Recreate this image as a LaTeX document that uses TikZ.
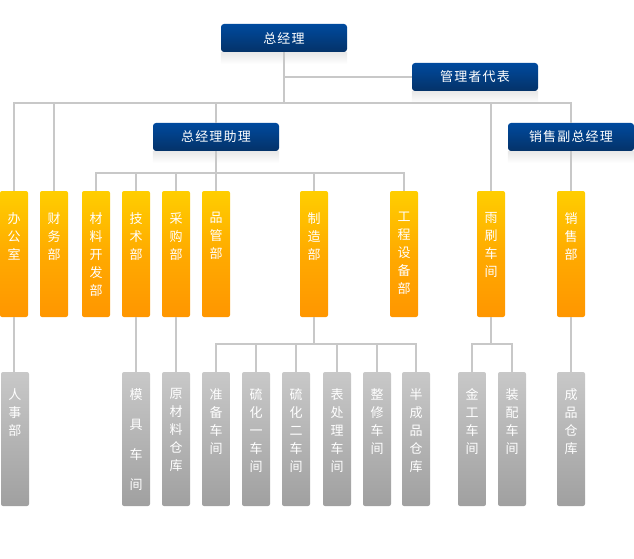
\documentclass[tikz,border=0pt]{standalone}
\usepackage{fontspec}
\setmainfont{Noto Sans CJK SC}
\newfontfamily\cjkls[LetterSpace=9]{Noto Sans CJK SC}
\definecolor{bluetop}{RGB}{0,74,158}
\definecolor{bluebot}{RGB}{4,50,104}
\definecolor{orgtop}{RGB}{255,206,0}
\definecolor{orgmid}{RGB}{255,170,0}
\definecolor{orgbot}{RGB}{255,150,0}
\definecolor{grytop}{RGB}{200,200,200}
\definecolor{grybot}{RGB}{160,160,160}
\definecolor{linec}{RGB}{200,200,200}
\tikzset{
  conn/.style={draw=linec, line width=1.3pt},
  bbox/.style={rounded corners=3pt, minimum width=126pt, minimum height=28pt,
    top color=bluetop, bottom color=bluebot, text=white, inner sep=0pt,
    font=\cjkls\fontsize{13}{15}\selectfont},
  obox/.style={rounded corners=2pt, minimum width=28pt, minimum height=126pt,
    top color=orgtop, bottom color=orgbot, middle color=orgmid, inner sep=0pt},
  gbox/.style={rounded corners=2pt, minimum width=28pt, minimum height=134pt,
    top color=grytop, bottom color=grybot, inner sep=0pt},
  vtext/.style={anchor=north, align=center, text=white, inner sep=0pt,
    font=\fontsize{13}{18}\selectfont},
  refl/.style={top color=black!9, bottom color=white, draw=none},
}
\begin{document}
\begin{tikzpicture}[x=1pt, y=-1pt]
\useasboundingbox (0,0) rectangle (634,559);

% blue boxes
\node[bbox] (zjl) at (284,38) {总经理};
\node[bbox] (glz) at (475,77) {管理者代表};
\node[bbox] (zjlzl) at (216,137) {总经理助理};
\node[bbox] (xsfz) at (571,137) {销售副总经理};
\foreach \n in {zjl,glz,zjlzl,xsfz}
  \fill[refl] (\n.south west) rectangle ([yshift=-12pt]\n.south east);

% orange boxes
\node[obox] (bgs) at (14,254) {};
\node[obox] (cwb) at (54,254) {};
\node[obox] (clkf) at (96,254) {};
\node[obox] (jsb) at (136,254) {};
\node[obox] (cgb) at (176,254) {};
\node[obox] (pgb) at (216,254) {};
\node[obox] (zzb) at (314,254) {};
\node[obox] (gcsb) at (404,254) {};
\node[obox] (ysj) at (491,254) {};
\node[obox] (xsb) at (571,254) {};

\node[vtext] (t-bgs) at ([yshift=-21.5pt]bgs.north) {办\\公\\室};
\node[vtext] (t-cwb) at ([yshift=-21.5pt]cwb.north) {财\\务\\部};
\node[vtext] (t-clkf) at ([yshift=-21.5pt]clkf.north) {材\\料\\开\\发\\部};
\node[vtext] (t-jsb) at ([yshift=-21.5pt]jsb.north) {技\\术\\部};
\node[vtext] (t-cgb) at ([yshift=-21.5pt]cgb.north) {采\\购\\部};
\node[vtext] (t-pgb) at ([yshift=-21.5pt]pgb.north) {品\\管\\部};
\node[vtext] (t-zzb) at ([yshift=-21.5pt]zzb.north) {制\\造\\部};
\node[vtext] (t-gcsb) at ([yshift=-21.5pt]gcsb.north) {工\\程\\设\\备\\部};
\node[vtext] (t-ysj) at ([yshift=-21.5pt]ysj.north) {雨\\刷\\车\\间};
\node[vtext] (t-xsb) at ([yshift=-21.5pt]xsb.north) {销\\售\\部};

% grey boxes
\node[gbox] (rsb) at (15,439) {};
\node[gbox] (mjcj) at (136,439) {};
\node[gbox] (ylck) at (176,439) {};
\node[gbox] (zbcj) at (216,439) {};
\node[gbox] (lh1) at (256,439) {};
\node[gbox] (lh2) at (296,439) {};
\node[gbox] (bcl) at (337,439) {};
\node[gbox] (zx) at (377,439) {};
\node[gbox] (bcp) at (416,439) {};
\node[gbox] (jg) at (472,439) {};
\node[gbox] (zp) at (512,439) {};
\node[gbox] (cpck) at (571,439) {};

\node[vtext] (t-rsb) at ([yshift=-16.5pt]rsb.north) {人\\事\\部};
\node[vtext] (t-mjcj) at ([yshift=-16.5pt]mjcj.north) {模\\[12pt]具\\[12pt]车\\[12pt]间};
\node[vtext] (t-ylck) at ([yshift=-16.5pt]ylck.north) {原\\材\\料\\仓\\库};
\node[vtext] (t-zbcj) at ([yshift=-16.5pt]zbcj.north) {准\\备\\车\\间};
\node[vtext] (t-lh1) at ([yshift=-16.5pt]lh1.north) {硫\\化\\一\\车\\间};
\node[vtext] (t-lh2) at ([yshift=-16.5pt]lh2.north) {硫\\化\\二\\车\\间};
\node[vtext] (t-bcl) at ([yshift=-16.5pt]bcl.north) {表\\处\\理\\车\\间};
\node[vtext] (t-zx) at ([yshift=-16.5pt]zx.north) {整\\修\\车\\间};
\node[vtext] (t-bcp) at ([yshift=-16.5pt]bcp.north) {半\\成\\品\\仓\\库};
\node[vtext] (t-jg) at ([yshift=-16.5pt]jg.north) {金\\工\\车\\间};
\node[vtext] (t-zp) at ([yshift=-16.5pt]zp.north) {装\\配\\车\\间};
\node[vtext] (t-cpck) at ([yshift=-16.5pt]cpck.north) {成\\品\\仓\\库};

% bus levels
\coordinate (bus1) at (0,103);
\coordinate (bus2) at (0,173);
\coordinate (bus3) at (0,344);

% connectors
\draw[conn] (zjl.south) -- (zjl.south |- bus1);
\draw[conn] (zjl.south |- glz.west) -- (glz.west);
\draw[conn] (bgs.north) |- (bus1 -| xsfz.north) -- (xsfz.north);
\draw[conn] (cwb.north) -- (cwb.north |- bus1);
\draw[conn] (zjlzl.north) -- (zjlzl.north |- bus1);
\draw[conn] (ysj.north) -- (ysj.north |- bus1);
\draw[conn] (xsfz.south) -- (xsb.north);

\draw[conn] (clkf.north) |- (bus2 -| gcsb.north) -- (gcsb.north);
\draw[conn] (jsb.north) -- (jsb.north |- bus2);
\draw[conn] (cgb.north) -- (cgb.north |- bus2);
\draw[conn] (zjlzl.south) -- (pgb.north);
\draw[conn] (zzb.north) -- (zzb.north |- bus2);

\draw[conn] (bgs.south) -- (bgs.south |- rsb.north);
\draw[conn] (jsb.south) -- (mjcj.north);
\draw[conn] (cgb.south) -- (ylck.north);
\draw[conn] (xsb.south) -- (cpck.north);

\draw[conn] (zbcj.north) |- (bus3 -| bcp.north) -- (bcp.north);
\draw[conn] (lh1.north) -- (lh1.north |- bus3);
\draw[conn] (lh2.north) -- (lh2.north |- bus3);
\draw[conn] (bcl.north) -- (bcl.north |- bus3);
\draw[conn] (zx.north) -- (zx.north |- bus3);
\draw[conn] (zzb.south) -- (zzb.south |- bus3);

\draw[conn] (jg.north) |- (bus3 -| zp.north) -- (zp.north);
\draw[conn] (ysj.south) -- (ysj.south |- bus3);
\end{tikzpicture}
\end{document}
